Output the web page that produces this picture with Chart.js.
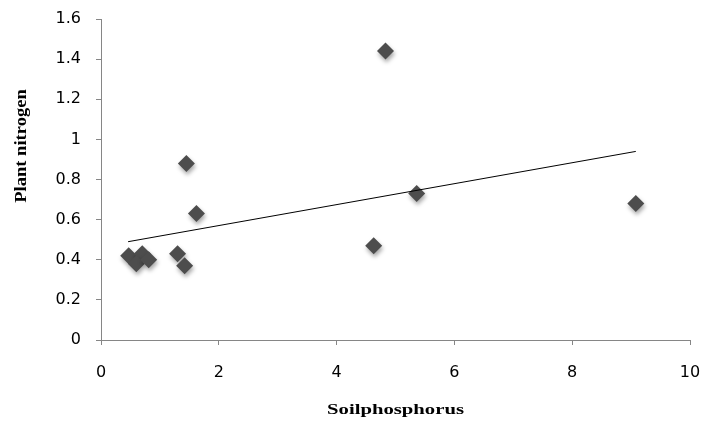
<!DOCTYPE html>
<html>
<head>
<meta charset="utf-8">
<script src="https://cdn.jsdelivr.net/npm/chart.js@4.4.1/dist/chart.umd.min.js"></script>
<style>
html,body{margin:0;padding:0;background:#fff;}
#wrap{width:703px;height:425px;position:relative;}
</style>
</head>
<body>
<div id="wrap"><canvas id="c" width="703" height="425"></canvas></div>
<script>
// Data
const soilPhosphorus = [0.47, 0.70, 0.60, 0.81, 1.30, 1.42, 1.45, 1.62, 4.63, 4.83, 5.36, 9.08];
const plantNitrogen  = [0.42, 0.43, 0.38, 0.40, 0.43, 0.37, 0.88, 0.63, 0.47, 1.44, 0.73, 0.68];
const trendX = [0.46, 9.08];
const trendY = [0.49, 0.94];
const xTicks = [0, 2, 4, 6, 8, 10];
const yTicks = [0, 0.2, 0.4, 0.6, 0.8, 1, 1.2, 1.4, 1.6];
const xTitle = 'Soilphosphorus';
const yTitle = 'Plant nitrogen';

const points = soilPhosphorus.map((x, i) => ({x: x, y: plantNitrogen[i]}));
const trend = trendX.map((x, i) => ({x: x, y: trendY[i]}));

const axisGrey = '#868686';

const shadowPlugin = {
  id: 'shadow',
  beforeDatasetDraw(chart, args) {
    if (args.index === 1) {
      const ctx = chart.ctx;
      ctx.save();
      ctx.shadowColor = 'rgba(0,0,0,0.35)';
      ctx.shadowBlur = 4;
      ctx.shadowOffsetX = 1;
      ctx.shadowOffsetY = 3;
    }
  },
  afterDatasetDraw(chart, args) {
    if (args.index === 1) chart.ctx.restore();
  }
};

// Axis titles (stretched like the reference)
const titlePlugin = {
  id: 'axisTitles',
  afterDraw(chart) {
    const ctx = chart.ctx;
    const area = chart.chartArea;
    ctx.save();
    ctx.fillStyle = '#000';
    ctx.textAlign = 'center';
    ctx.textBaseline = 'middle';
    ctx.font = 'bold 16px "Liberation Serif", serif';
    // y title
    ctx.save();
    ctx.translate(22, 146);
    ctx.rotate(-Math.PI / 2);
    ctx.scale(1.16, 1);
    ctx.fillText(yTitle, 0, 0);
    ctx.restore();
    // x title
    ctx.save();
    ctx.font = 'bold 15px "Liberation Serif", serif';
    ctx.translate((area.left + area.right) / 2, 410);
    ctx.scale(1.38, 1);
    ctx.fillText(xTitle, 0, 0);
    ctx.restore();
    ctx.restore();
  }
};

new Chart(document.getElementById('c'), {
  type: 'scatter',
  data: {
    datasets: [
      {
        type: 'line',
        data: trend,
        borderColor: '#000',
        borderWidth: 1,
        pointRadius: 0,
        fill: false,
        tension: 0
      },
      {
        data: points,
        pointStyle: 'rectRot',
        pointRadius: 8.5,
        backgroundColor: '#4d4d4d',
        borderColor: '#4d4d4d',
        borderWidth: 0
      }
    ]
  },
  options: {
    responsive: false,
    animation: false,
    devicePixelRatio: 1,
    layout: {padding: {top: 19, right: 13, left: 0, bottom: 0}},
    plugins: {legend: {display: false}, tooltip: {enabled: false}},
    scales: {
      x: {
        type: 'linear',
        min: 0, max: 10,
        afterBuildTicks(scale) { scale.ticks = xTicks.map(v => ({value: v})); },
        afterFit(scale) { scale.height = 85; scale.paddingLeft = 0; scale.paddingRight = 0; },
        border: {display: true, color: axisGrey, width: 1},
        grid: {drawOnChartArea: false, drawTicks: true, tickLength: 5, color: axisGrey},
        ticks: {
          padding: 18,
          color: '#000',
          font: {family: '"DejaVu Sans", sans-serif', size: 16},
          maxRotation: 0
        }
      },
      y: {
        type: 'linear',
        min: 0, max: 1.6,
        afterBuildTicks(scale) { scale.ticks = yTicks.map(v => ({value: v})); },
        afterFit(scale) { scale.width = 101; scale.paddingTop = 0; scale.paddingBottom = 0; },
        border: {display: true, color: axisGrey, width: 1},
        grid: {drawOnChartArea: false, drawTicks: true, tickLength: 5, color: axisGrey},
        ticks: {
          padding: 15,
          color: '#000',
          font: {family: '"DejaVu Sans", sans-serif', size: 16},
          callback: (v) => String(Math.round(v * 10) / 10)
        }
      }
    }
  },
  plugins: [shadowPlugin, titlePlugin]
});
</script>
</body>
</html>
